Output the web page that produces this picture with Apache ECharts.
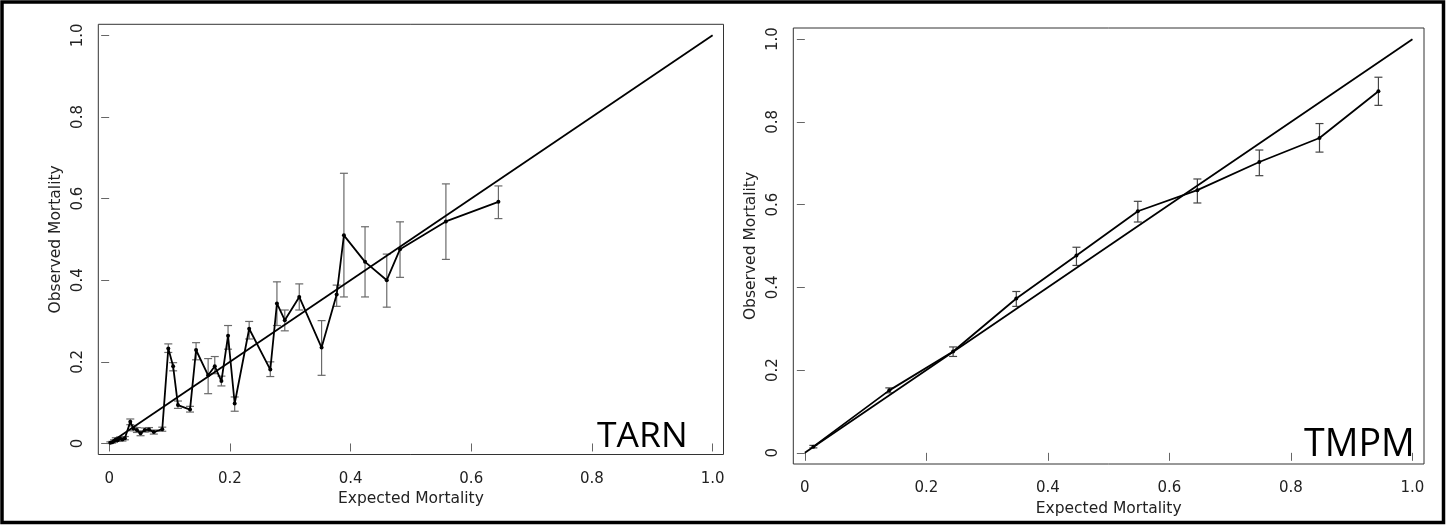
<!DOCTYPE html>
<html>
<head>
<meta charset="utf-8">
<title>TARN vs TMPM calibration</title>
<script src="https://cdn.jsdelivr.net/npm/echarts@6/dist/echarts.min.js"></script>
<style>
  html, body { margin: 0; padding: 0; background: #fff; }
  #chart { width: 1450px; height: 529px; }
</style>
</head>
<body>
<div id="chart"></div>
<script>
// TARN: expected vs observed mortality, with error bar limits
var tarnExpected = [0.002, 0.005, 0.008, 0.011, 0.014, 0.018, 0.022, 0.026, 0.035, 0.040, 0.046, 0.052, 0.059, 0.066, 0.074, 0.088,
  0.098, 0.106, 0.114, 0.134, 0.144, 0.164, 0.175, 0.186, 0.197, 0.208, 0.232, 0.267, 0.278, 0.291, 0.315, 0.352, 0.377, 0.389, 0.424, 0.460, 0.482, 0.558, 0.645];
var tarnObserved = [0.002, 0.003, 0.006, 0.010, 0.008, 0.012, 0.010, 0.013, 0.053, 0.037, 0.033, 0.025, 0.033, 0.034, 0.028, 0.035,
  0.233, 0.189, 0.094, 0.083, 0.229, 0.167, 0.189, 0.153, 0.264, 0.098, 0.281, 0.181, 0.343, 0.302, 0.359, 0.235, 0.365, 0.510, 0.445, 0.400, 0.476, 0.544, 0.592];
var tarnLow = [0.000, 0.001, 0.003, 0.006, 0.005, 0.008, 0.006, 0.009, 0.046, 0.031, 0.027, 0.019, 0.028, 0.029, 0.023, 0.030,
  0.223, 0.178, 0.086, 0.077, 0.205, 0.122, 0.171, 0.141, 0.231, 0.079, 0.256, 0.164, 0.289, 0.276, 0.327, 0.167, 0.336, 0.359, 0.359, 0.334, 0.407, 0.451, 0.551];
var tarnHigh = [0.004, 0.005, 0.009, 0.014, 0.011, 0.016, 0.014, 0.017, 0.060, 0.043, 0.039, 0.031, 0.038, 0.039, 0.033, 0.040,
  0.244, 0.198, 0.104, 0.091, 0.247, 0.208, 0.213, 0.165, 0.289, 0.114, 0.299, 0.200, 0.396, 0.327, 0.391, 0.301, 0.388, 0.662, 0.531, 0.464, 0.543, 0.636, 0.631];

// TMPM
var tmpmExpected = [0.014, 0.139, 0.244, 0.348, 0.447, 0.548, 0.646, 0.748, 0.847, 0.944];
var tmpmObserved = [0.015, 0.151, 0.245, 0.373, 0.477, 0.584, 0.635, 0.703, 0.761, 0.874];
var tmpmLow = [0.012, 0.145, 0.233, 0.354, 0.453, 0.558, 0.604, 0.670, 0.727, 0.840];
var tmpmHigh = [0.018, 0.157, 0.256, 0.390, 0.497, 0.608, 0.662, 0.732, 0.796, 0.908];

var tickValues = [0, 0.2, 0.4, 0.6, 0.8, 1.0];
var diagonal = [[0, 0], [1, 1]];

function pairs(xs, ys) {
  return xs.map(function (x, i) { return [x, ys[i]]; });
}
function bars(xs, lo, hi) {
  return xs.map(function (x, i) { return [x, lo[i], hi[i]]; });
}

function errorBar(params, api) {
  var top = api.coord([api.value(0), api.value(2)]);
  var bottom = api.coord([api.value(0), api.value(1)]);
  var w = 4;
  var style = { stroke: params.seriesIndex === 2 ? '#6a6a6a' : '#444', lineWidth: 1.2 };
  return {
    type: 'group',
    children: [
      { type: 'line', shape: { x1: top[0], y1: top[1], x2: bottom[0], y2: bottom[1] }, style: style },
      { type: 'line', shape: { x1: top[0] - w, y1: top[1], x2: top[0] + w, y2: top[1] }, style: style },
      { type: 'line', shape: { x1: bottom[0] - w, y1: bottom[1], x2: bottom[0] + w, y2: bottom[1] }, style: style }
    ]
  };
}

var font = 'DejaVu Sans';
function tickLabel(v) {
  return v === 0 ? '0' : v.toFixed(1);
}
function xAxis(idx, min, max) {
  return {
    type: 'value', gridIndex: idx, min: min, max: max,
    name: 'Expected Mortality', nameLocation: 'middle', nameGap: 27,
    nameTextStyle: { fontFamily: font, fontSize: 15.5, color: '#222' },
    axisLine: { show: false },
    axisTick: { show: true, inside: false, length: 8, customValues: tickValues, lineStyle: { color: '#666' } },
    axisLabel: { customValues: tickValues, formatter: tickLabel, margin: 17, fontFamily: font, fontSize: 15, color: '#222' },
    splitLine: { show: false }
  };
}
function yAxis(idx) {
  return {
    type: 'value', gridIndex: idx, min: -0.027, max: 1.027,
    name: 'Observed Mortality', nameLocation: 'middle', nameGap: 34,
    nameTextStyle: { fontFamily: font, fontSize: 15.5, color: '#222' },
    axisLine: { show: false },
    axisTick: { show: true, inside: false, length: 8, customValues: tickValues, lineStyle: { color: '#666' } },
    axisLabel: { customValues: tickValues, formatter: tickLabel, rotate: 90, margin: 13, fontFamily: font, fontSize: 15, color: '#222' },
    splitLine: { show: false }
  };
}

var chart = echarts.init(document.getElementById('chart'));
var option = {
  backgroundColor: '#fff',
  animation: false,
  grid: [
    { left: 98.3, top: 24.3, width: 625.2, height: 430.2, show: true, borderColor: '#333', borderWidth: 1 },
    { left: 793.3, top: 28, width: 630.7, height: 436, show: true, borderColor: '#333', borderWidth: 1 }
  ],
  xAxis: [xAxis(0, -0.018, 1.018), xAxis(1, -0.019, 1.019)],
  yAxis: [yAxis(0), yAxis(1)],
  series: [
    { type: 'line', xAxisIndex: 0, yAxisIndex: 0, data: diagonal, showSymbol: false, lineStyle: { color: '#000', width: 1.8 }, z: 3 },
    { type: 'line', xAxisIndex: 0, yAxisIndex: 0, data: pairs(tarnExpected, tarnObserved), symbol: 'circle', symbolSize: 4,
      itemStyle: { color: '#000' }, lineStyle: { color: '#000', width: 1.8 }, z: 4 },
    { type: 'custom', xAxisIndex: 0, yAxisIndex: 0, data: bars(tarnExpected, tarnLow, tarnHigh), renderItem: errorBar, z: 2 },
    { type: 'line', xAxisIndex: 1, yAxisIndex: 1, data: diagonal, showSymbol: false, lineStyle: { color: '#000', width: 1.8 }, z: 3 },
    { type: 'line', xAxisIndex: 1, yAxisIndex: 1, data: pairs(tmpmExpected, tmpmObserved), symbol: 'circle', symbolSize: 4,
      itemStyle: { color: '#000' }, lineStyle: { color: '#000', width: 1.8 }, z: 4 },
    { type: 'custom', xAxisIndex: 1, yAxisIndex: 1, data: bars(tmpmExpected, tmpmLow, tmpmHigh), renderItem: errorBar, z: 2 }
  ],
  graphic: [
    { type: 'rect', shape: { x: 2, y: 2, width: 1441.5, height: 520.5 }, style: { fill: 'none', stroke: '#000', lineWidth: 3.5 }, z: 10 },
    { type: 'text', left: 597, top: 419, style: { text: 'TARN', font: '35.5px "Open Sans"', fill: '#000' }, z: 10 },
    { type: 'text', left: 1304, top: 426, style: { text: 'TMPM', font: '37.5px "Open Sans"', fill: '#000' }, z: 10 }
  ]
};
chart.setOption(option);
</script>
</body>
</html>
